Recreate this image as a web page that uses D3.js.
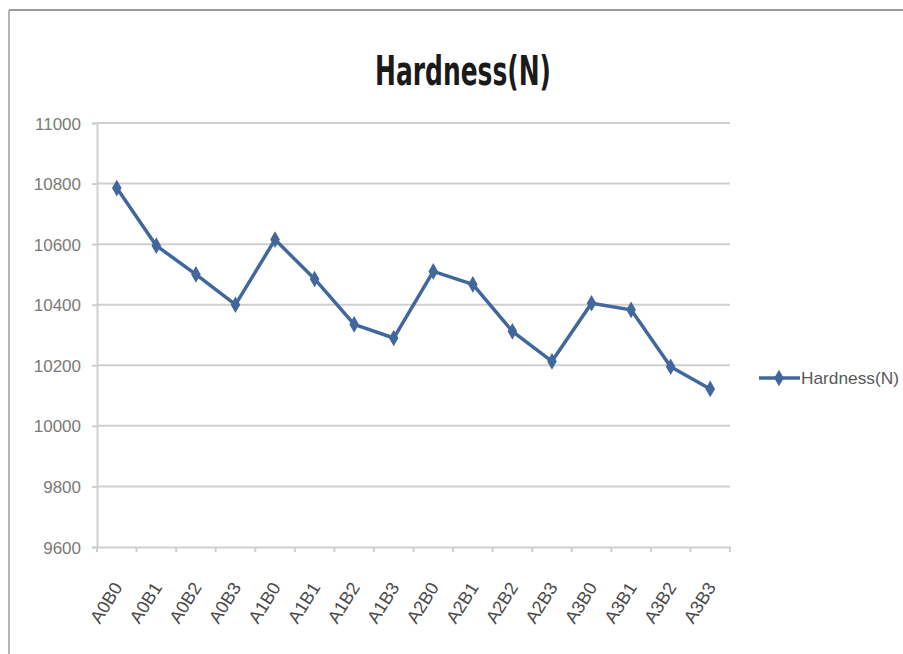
<!DOCTYPE html>
<html>
<head>
<meta charset="utf-8">
<script src="https://cdn.jsdelivr.net/npm/d3@7/dist/d3.min.js"></script>
<style>
  html, body { margin: 0; padding: 0; background: #fff; }
  svg { display: block; }
</style>
</head>
<body>
<svg id="chart" width="903" height="654"></svg>
<script>
// Hardness measurements per A/B level combination
const categories = ["A0B0","A0B1","A0B2","A0B3","A1B0","A1B1","A1B2","A1B3",
                    "A2B0","A2B1","A2B2","A2B3","A3B0","A3B1","A3B2","A3B3"];
const hardness = [10785, 10595, 10500, 10400, 10615, 10485, 10335, 10290,
                  10510, 10467, 10312, 10213, 10405, 10383, 10195, 10122];
const yTicks = [9600, 9800, 10000, 10200, 10400, 10600, 10800, 11000];
const seriesName = "Hardness(N)";
const chartTitle = "Hardness(N)";

const svg = d3.select("#chart");
const font = "'Liberation Sans', Arial, sans-serif";
const titleFont = "'DejaVu Sans', sans-serif";
const lineColor = "#41679c";
const gridColor = "#cfcfcf";

// outer frame
svg.append("line").attr("x1", 9).attr("x2", 903).attr("y1", 10).attr("y2", 10)
  .attr("stroke", "#9a9a9a").attr("stroke-width", 2);
svg.append("line").attr("x1", 9).attr("x2", 9).attr("y1", 10).attr("y2", 654)
  .attr("stroke", "#b4b4b4").attr("stroke-width", 2);

const plot = { left: 97, right: 730, top: 123, bottom: 547 };

const x = d3.scaleBand().domain(categories).range([plot.left, plot.right]);
const y = d3.scaleLinear().domain([9600, 11000]).range([plot.bottom, plot.top]);

// horizontal gridlines
svg.append("g").selectAll("line").data(yTicks.filter(t => t !== 9600)).join("line")
  .attr("x1", plot.left).attr("x2", plot.right)
  .attr("y1", d => y(d)).attr("y2", d => y(d))
  .attr("stroke", gridColor).attr("stroke-width", 2);

// y axis
const yAxis = svg.append("g").attr("transform", `translate(${plot.left},0)`)
  .call(d3.axisLeft(y).tickValues(yTicks).tickSize(5).tickPadding(11).tickFormat(d3.format("d")));
yAxis.select(".domain").attr("stroke", gridColor).attr("stroke-width", 2);
yAxis.selectAll(".tick line").attr("stroke", gridColor).attr("stroke-width", 2);
yAxis.selectAll("text").attr("font-family", font).attr("font-size", 17)
  .attr("fill", "#7a7a7a").attr("dy", "0.36em");

// x axis with ticks at category boundaries
const xAxis = svg.append("g").attr("transform", `translate(0,${plot.bottom})`)
  .call(d3.axisBottom(x).tickSize(0).tickPadding(0));
xAxis.select(".domain").attr("stroke", gridColor).attr("stroke-width", 2);
xAxis.selectAll(".tick text")
  .attr("font-family", font).attr("font-size", 18).attr("fill", "#4a4a4a")
  .attr("text-anchor", "end")
  .attr("transform", "translate(1,37) rotate(-58)")
  .attr("dy", "0.35em").attr("dx", 0).attr("y", 0).attr("x", 0);
const bounds = categories.map(c => x(c)).concat([x(categories[categories.length - 1]) + x.bandwidth()]);
svg.append("g").selectAll("line").data(bounds).join("line")
  .attr("x1", d => d).attr("x2", d => d)
  .attr("y1", plot.bottom).attr("y2", plot.bottom + 5)
  .attr("stroke", gridColor).attr("stroke-width", 2);

// series line
const cx = d => x(d) + x.bandwidth() / 2;
const pts = categories.map((c, i) => [cx(c), y(hardness[i])]);
svg.append("path").datum(pts)
  .attr("d", d3.line())
  .attr("fill", "none").attr("stroke", lineColor).attr("stroke-width", 3.5)
  .attr("stroke-linejoin", "round");

const diamond = d3.symbol().type(d3.symbolDiamond).size(80);
svg.append("g").selectAll("path").data(pts).join("path")
  .attr("transform", d => `translate(${d[0]},${d[1]})`)
  .attr("d", diamond)
  .attr("fill", lineColor);

// title
svg.append("text").attr("x", 375).attr("y", 85)
  .attr("font-family", titleFont).attr("font-size", 40).attr("font-weight", "bold")
  .attr("textLength", 176).attr("lengthAdjust", "spacingAndGlyphs")
  .attr("fill", "#1a1a1a").text(chartTitle);

// legend
const ly = 378;
svg.append("line").attr("x1", 759).attr("x2", 800).attr("y1", ly).attr("y2", ly)
  .attr("stroke", lineColor).attr("stroke-width", 3.5);
svg.append("path").attr("transform", `translate(779,${ly})`).attr("d", diamond).attr("fill", lineColor);
svg.append("text").attr("x", 801).attr("y", ly).attr("dy", "0.36em")
  .attr("font-family", font).attr("font-size", 17).attr("fill", "#5a5a5a")
  .attr("textLength", 98).attr("lengthAdjust", "spacingAndGlyphs")
  .text(seriesName);
</script>
</body>
</html>
